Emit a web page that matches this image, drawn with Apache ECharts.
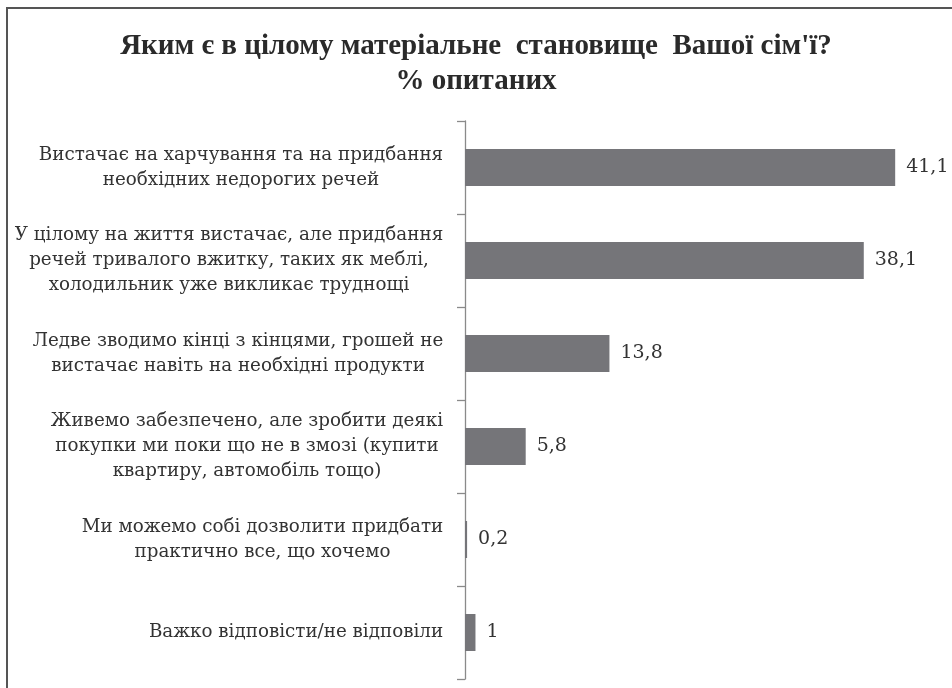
<!DOCTYPE html>
<html>
<head>
<meta charset="utf-8">
<script src="https://cdn.jsdelivr.net/npm/echarts@6/dist/echarts.min.js"></script>
<style>html,body{margin:0;padding:0;background:#fff;}#c{width:952px;height:688px;}</style>
</head>
<body>
<div id="c"></div>
<script>
var titleText = "Яким є в цілому матеріальне  становище  Вашої сім'ї?\n% опитаних";
var categories = [
  "Вистачає на харчування та на придбання\nнеобхідних недорогих речей",
  "У цілому на життя вистачає, але придбання\nречей тривалого вжитку, таких як меблі,\nхолодильник уже викликає труднощі",
  "Ледве зводимо кінці з кінцями, грошей не\nвистачає навіть на необхідні продукти",
  "Живемо забезпечено, але зробити деякі\nпокупки ми поки що не в змозі (купити\nквартиру, автомобіль тощо)",
  "Ми можемо собі дозволити придбати\nпрактично все, що хочемо",
  "Важко відповісти/не відповіли"
];
var values = [41.1, 38.1, 13.8, 5.8, 0.2, 1];

var labelFont = 18.3;
var labelFamily = '"DejaVu Serif", serif';
var titleFamily = '"Liberation Serif", "Times New Roman", serif';
var ctx = document.createElement('canvas').getContext('2d');
ctx.font = labelFont + 'px ' + labelFamily;
var rich = {};
categories.forEach(function (c, i) {
  var w = 0;
  c.split('\n').forEach(function (l) { w = Math.max(w, ctx.measureText(l).width); });
  rich['r' + i] = {width: Math.ceil(w) + 1, align: 'center', fontSize: labelFont, fontFamily: labelFamily, lineHeight: 25, color: '#333'};
});

var chart = echarts.init(document.getElementById('c'));
chart.setOption({
  animation: false,
  title: {
    text: titleText,
    left: 'center',
    top: 24,
    textStyle: {fontFamily: titleFamily, fontWeight: 'bold', fontSize: 29, lineHeight: 35, color: '#2a2a2a'}
  },
  grid: {left: 465, right: 16, top: 121, bottom: 9, containLabel: false},
  xAxis: {type: 'value', min: 0, max: 45, show: false},
  yAxis: {
    type: 'category',
    inverse: true,
    data: categories,
    axisLine: {show: true, lineStyle: {color: '#8a8a8a', width: 1.3}},
    axisTick: {show: true, length: 8, lineStyle: {color: '#8a8a8a', width: 1.3}},
    axisLabel: {
      margin: 21,
      formatter: function (v) {
        var i = categories.indexOf(v);
        return v.split('\n').map(function (l) { return '{r' + i + '|' + l + '}'; }).join('\n');
      },
      rich: rich
    }
  },
  series: [{
    type: 'bar',
    data: values,
    barWidth: 37,
    itemStyle: {color: '#757579'},
    label: {
      show: true,
      position: 'right',
      distance: 11,
      fontFamily: labelFamily,
      fontSize: 19,
      color: '#333',
      formatter: function (p) { return String(p.value).replace('.', ','); }
    }
  }],
  graphic: [
    {type: 'line', shape: {x1: 6, y1: 8, x2: 952, y2: 8}, style: {stroke: '#555', lineWidth: 2}},
    {type: 'line', shape: {x1: 7, y1: 8, x2: 7, y2: 688}, style: {stroke: '#555', lineWidth: 2}}
  ]
});
</script>
</body>
</html>
